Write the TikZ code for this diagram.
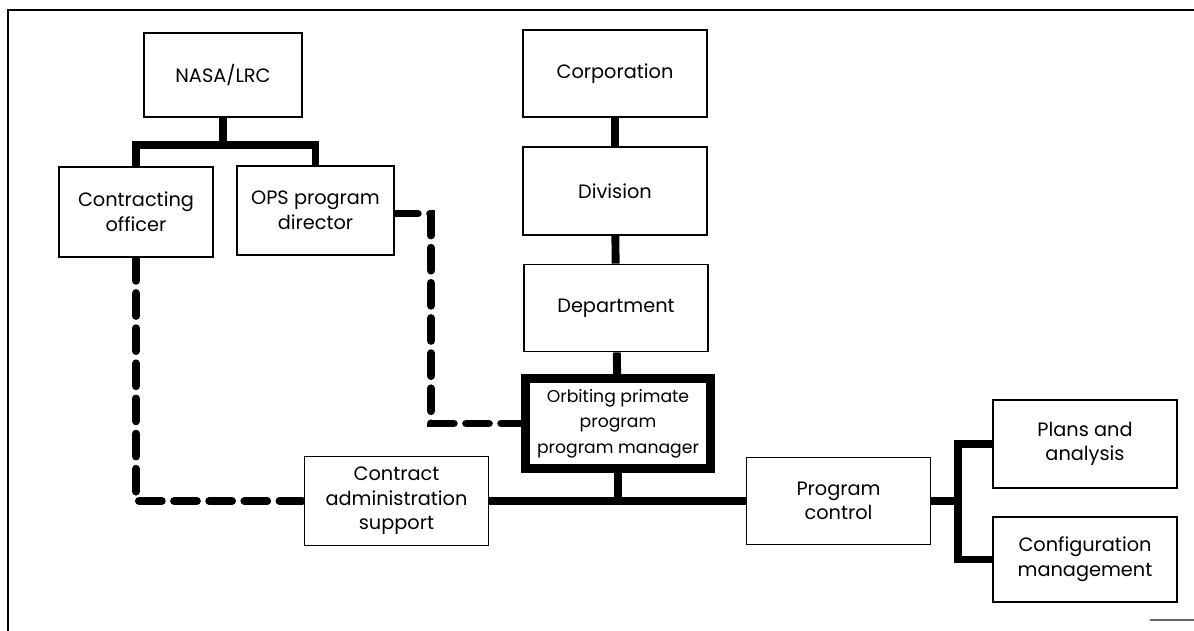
\documentclass[tikz,border=0pt]{standalone}
\usepackage{fontspec}
\setmainfont{Poppins}
\usetikzlibrary{backgrounds}

\begin{document}
\begin{tikzpicture}[x=0.02cm, y=-0.02cm]
\tikzstyle{unit} = [draw, line width=1.1pt, fill=white, align=center, inner sep=0pt, minimum width=3.68cm, minimum height=1.76cm, font=\fontsize{11}{14}\selectfont]
\tikzstyle{manager} = [unit, line width=5pt, minimum width=3.7cm, minimum height=1.8cm, font=\fontsize{9.8}{14.6}\selectfont]
\tikzstyle{link} = [line width=4.5pt]
\tikzstyle{staff} = [line width=4.5pt, line cap=round, dash pattern=on 13pt off 7pt]

\useasboundingbox (0,0) rectangle (1194,631);

% sheet border
\draw[line width=1.6pt] (1194,10) -- (8,10) -- (8,631);
\draw[line width=0.6pt, black!60] (1150,620) -- (1194,620);

% customer side
\node[unit, minimum width=3.16cm, minimum height=1.68cm] (nasa) at (223,75) {NASA/LRC};
\node[unit, minimum width=3.08cm, minimum height=1.8cm] (officer) at (136,212) {Contracting\\officer};
\node[unit, minimum width=3.14cm, minimum height=1.78cm] (director) at (315.5,210.5) {OPS program\\director};

% contractor line
\node[unit, minimum height=1.74cm] (corp) at (615,73.5) {Corporation};
\node[unit] (division) at (615,191) {Division};
\node[unit, minimum height=1.74cm] (dept) at (616,308) {Department};
\node[manager] (opm) at (618,423.5) {Orbiting primate\\program\\program manager};

% program office
\node[unit, minimum height=1.78cm] (admin) at (396.5,501) {Contract\\administration\\support};
\node[unit, minimum height=1.74cm] (control) at (838.5,501) {Program\\control};
\node[unit] (plans) at (1085,444) {Plans and\\analysis};
\node[unit, minimum height=1.7cm] (config) at (1085,559.5) {Configuration\\management};

\coordinate (nasabus) at (223,145);
\coordinate (fork) at (958,501);

\begin{scope}[on background layer]
\draw[link] (nasa) -- (nasabus);
\draw[link] (officer.north) |- (nasabus) -| (director.north);
\draw[link] (corp) -- (division);
\draw[link] (division) -- (dept);
\draw[link] (dept) -- (opm);
\draw[link] (opm.south) -- (opm.south |- admin.east);
\draw[link] (admin.east) -- (control.west);
\draw[link] (control.east) -- (fork);
\draw[link] (plans.west) -| (fork) |- (config.west);

% dashed lines of authority
\draw[staff] (director.east) ++(0,3) -- ++(36,0) |- (opm.west);
\draw[staff] (officer.south) |- (admin.west);
\end{scope}

\end{tikzpicture}
\end{document}
